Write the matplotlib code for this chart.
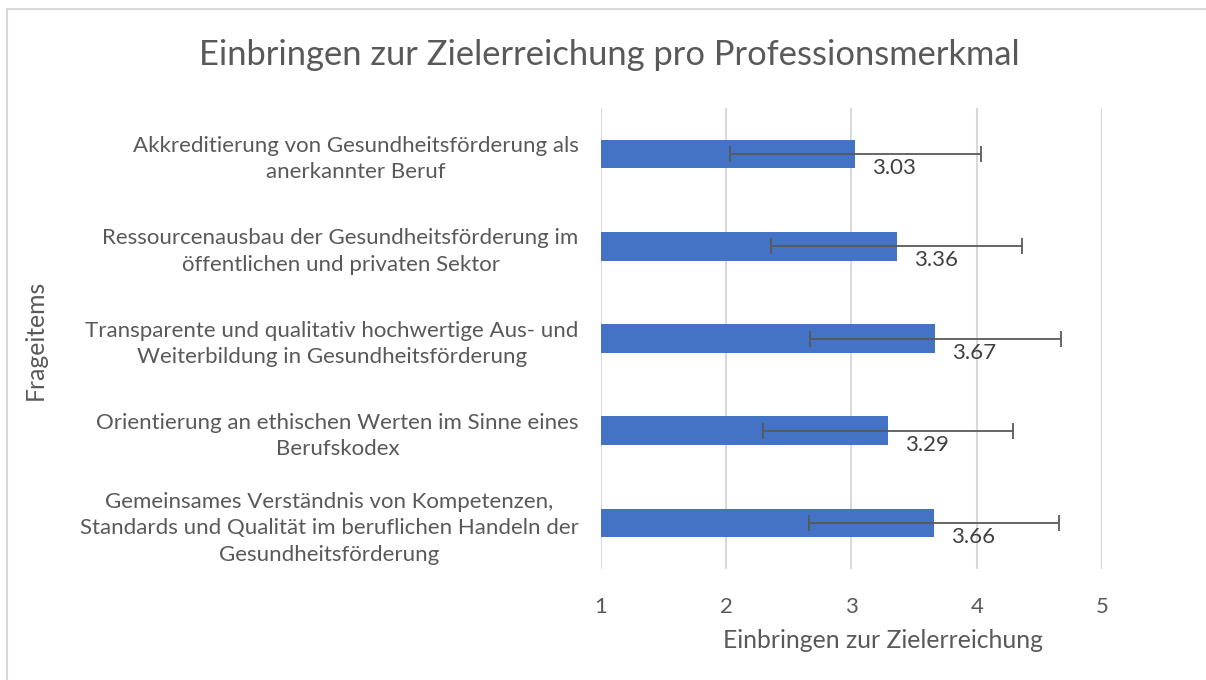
import matplotlib.pyplot as plt
import numpy as np

# Frageitems und Mittelwerte (Fehlerbalken +/- 1)
items = [
    'Akkreditierung von Gesundheitsförderung als\nanerkannter Beruf',
    'Ressourcenausbau der Gesundheitsförderung im\nöffentlichen und privaten Sektor',
    'Transparente und qualitativ hochwertige Aus- und\nWeiterbildung in Gesundheitsförderung',
    'Orientierung an ethischen Werten im Sinne eines\nBerufskodex',
    'Gemeinsames Verständnis von Kompetenzen,\nStandards und Qualität im beruflichen Handeln der\nGesundheitsförderung',
]
means = [3.03, 3.36, 3.67, 3.29, 3.66]
errs = [1.0, 1.0, 1.0, 1.0, 1.0]
xticks = [1, 2, 3, 4, 5]

grey = '#595959'
blue = '#4472C4'
plt.rcParams['font.family'] = ['Lato', 'DejaVu Sans']

fig = plt.figure(figsize=(12.06, 6.8), dpi=100)
ax = fig.add_axes([0.4983, 0.1632, 0.4155, 0.678])

# rahmen links/oben wie im excel-export
fig.patches.append(plt.Rectangle((7 / 1206, -0.1), 1.2, 1 - 9 / 680 + 0.1,
                                 transform=fig.transFigure, fill=False,
                                 edgecolor='#d9d9d9', linewidth=1.5))

y = np.arange(len(items))
ax.barh(y, np.array(means) - 1, left=1, height=0.31, color=blue, zorder=2)
ax.errorbar(means, y, xerr=errs, fmt='none', ecolor=grey, elinewidth=1.3,
            capsize=5.5, capthick=1.3, zorder=3)

for yi, m in zip(y, means):
    ax.annotate('%.2f' % m, (m, yi), xytext=(17, -14), textcoords='offset pixels',
                ha='left', va='center', fontsize=16, color='#404040')

ax.set_xlim(1, 5)
ax.set_ylim(len(items) - 0.5, -0.5)
ax.set_xticks(xticks)
ax.set_yticks(y)
ax.set_yticklabels(items, multialignment='center', linespacing=1.4)
ax.grid(axis='x', color='#d9d9d9', linewidth=1.5, zorder=0)
ax.set_axisbelow(True)
for s in ax.spines.values():
    s.set_visible(False)
ax.tick_params(axis='both', length=0, colors=grey, labelsize=16)
ax.tick_params(axis='y', pad=16)
ax.tick_params(axis='x', pad=20)

fig.text(609 / 1206, 1 - 55 / 680, 'Einbringen zur Zielerreichung pro Professionsmerkmal',
         ha='center', va='center', fontsize=24.8, color=grey)
fig.text(883 / 1206, 1 - 640 / 680, 'Einbringen zur Zielerreichung',
         ha='center', va='center', fontsize=17.8, color=grey)
fig.text(35 / 1206, 1 - 340 / 680, 'Frageitems', rotation=90,
         ha='center', va='center', fontsize=17.8, color=grey)

fig.savefig('out.png', dpi=100)
